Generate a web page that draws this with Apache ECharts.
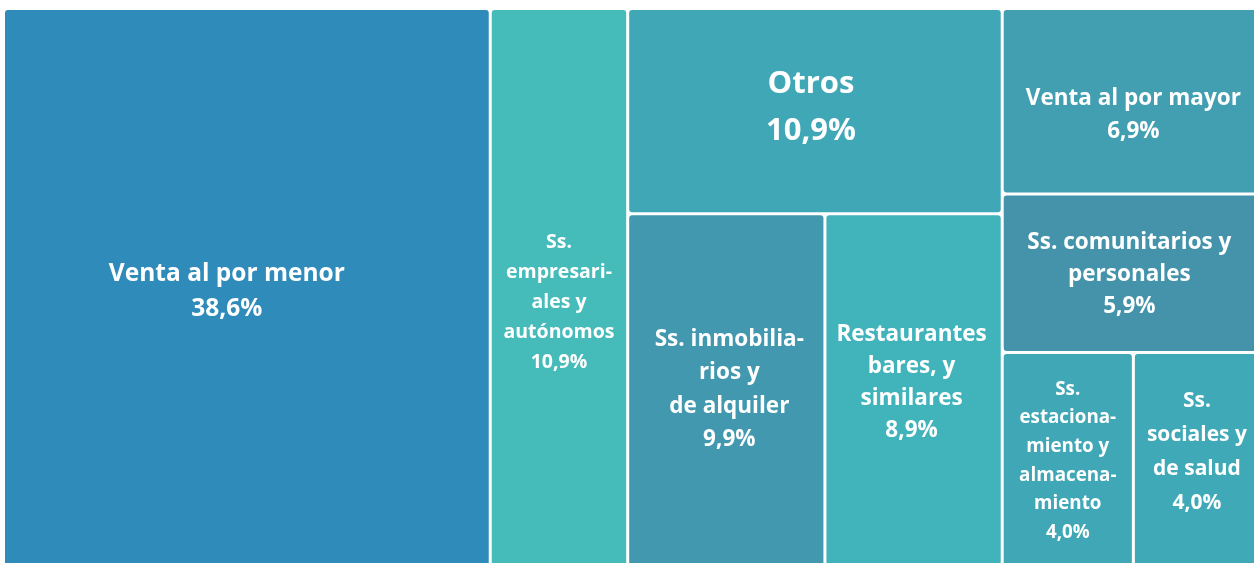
<!DOCTYPE html>
<html>
<head>
<meta charset="utf-8">
<script src="https://cdn.jsdelivr.net/npm/echarts@6/dist/echarts.min.js"></script>
<style>
html,body{margin:0;padding:0;background:#fff;overflow:hidden;}
#chart{width:1254px;height:563px;}
</style>
</head>
<body>
<div id="chart"></div>
<script>
// Categories, values (%), and displayed label lines
var categories = [
  'Venta al por menor',
  'Ss. empresariales y autónomos',
  'Otros',
  'Ss. inmobiliarios y de alquiler',
  'Restaurantes bares, y similares',
  'Venta al por mayor',
  'Ss. comunitarios y personales',
  'Ss. estacionamiento y almacenamiento',
  'Ss. sociales y de salud'
];
var values = [38.6, 10.9, 10.9, 9.9, 8.9, 6.9, 5.9, 4.0, 4.0];
var labelLines = [
  ['Venta al por menor'],
  ['Ss.', 'empresari-', 'ales y', 'autónomos'],
  ['Otros'],
  ['Ss. inmobilia-', 'rios y', 'de alquiler'],
  ['Restaurantes', 'bares, y', 'similares'],
  ['Venta al por mayor'],
  ['Ss. comunitarios y', 'personales'],
  ['Ss.', 'estaciona-', 'miento y', 'almacena-', 'miento'],
  ['Ss.', 'sociales y', 'de salud']
];
var colors = ['#2E8BBA', '#45BBBA', '#3FA7B6', '#4299AF', '#41B3BB', '#429EB1', '#4493AB', '#3FA7B5', '#3FA9B7'];
var fontSizes = [24.5, 19.5, 31, 22.5, 22.5, 22.5, 22.5, 18.8, 21];
var lineHeights = [35, 30, 47, 33.5, 32, 33, 32, 28.7, 34];
var labelOffsets = [[-20, 4], [0, 14], [-4, -3], [3, -1], [-2, -8], [0, 14], [-4, 1], [0, 1], [-2, -8]];

// Grouping of category indices (nesting structure only)
var grouping = [0, 1, [2, [3, 4]], [5, 6, [7, 8]]];

function fmt(v) { return v.toFixed(1).replace('.', ',') + '%'; }

function leaf(i) {
  return {
    name: categories[i],
    value: values[i],
    itemStyle: { color: colors[i], borderRadius: 3 },
    label: {
      fontSize: fontSizes[i],
      lineHeight: lineHeights[i],
      offset: labelOffsets[i],
      formatter: labelLines[i].join('\n') + '\n' + fmt(values[i])
    }
  };
}
function build(node) {
  if (Array.isArray(node)) {
    return { name: '', children: node.map(build), itemStyle: { borderColor: '#fff' } };
  }
  return leaf(node);
}
var treeData = grouping.map(build);

var chart = echarts.init(document.getElementById('chart'));
var lvl = { itemStyle: { gapWidth: 3, borderWidth: 0, borderColor: '#fff' } };
chart.setOption({
  animation: false,
  series: [{
    type: 'treemap',
    left: 5, top: 10, width: 1258, height: 556,
    roam: false,
    nodeClick: false,
    sort: false,
    squareRatio: 0.0001,
    visibleMin: 0,
    breadcrumb: { show: false },
    levels: [lvl, lvl, lvl, lvl],
    upperLabel: { show: false },
    label: {
      show: true,
      position: 'inside',
      align: 'center',
      verticalAlign: 'middle',
      color: '#fff',
      fontFamily: 'Open Sans',
      fontWeight: 'bold',
      overflow: 'none'
    },
    itemStyle: { borderWidth: 0, gapWidth: 3, borderColor: '#fff' },
    data: treeData
  }]
});
</script>
</body>
</html>
